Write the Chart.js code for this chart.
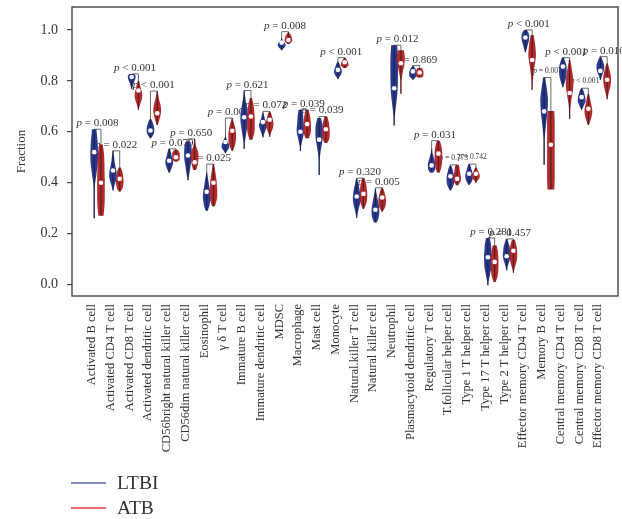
<!DOCTYPE html>
<html>
<head>
<meta charset="utf-8">
<script src="https://cdn.jsdelivr.net/npm/chart.js@4.4.0/dist/chart.umd.min.js"></script>
<style>
  html, body { margin: 0; padding: 0; background: #fff; }
  canvas { display: block; }
</style>
</head>
<body>
<canvas id="chart" width="622" height="519"></canvas>
<script>
// Immune cell types (ssGSEA fractions), LTBI vs ATB
const cells = [
  'Activated B cell', 'Activated CD4 T cell', 'Activated CD8 T cell', 'Activated dendritic cell',
  'CD56bright natural killer cell', 'CD56dim natural killer cell', 'Eosinophil', 'γ δ T cell',
  'Immature B cell', 'Immature dendritic cell', 'MDSC', 'Macrophage', 'Mast cell', 'Monocyte',
  'Natural.killer T cell', 'Natural killer cell', 'Neutrophil', 'Plasmacytoid dendritic cell',
  'Regulatory T cell', 'T.follicular helper cell', 'Type 1 T helper cell', 'Type 17 T helper cell',
  'Type 2 T helper cell', 'Effector memory CD4 T cell', 'Memory B cell', 'Central memory CD4 T cell',
  'Central memory CD8 T cell', 'Effector memory CD8 T cell'
];

const ltbiMin    = [0.26, 0.37, 0.768, 0.575, 0.44, 0.41, 0.29, 0.516, 0.533, 0.578, 0.92, 0.525, 0.43, 0.807, 0.262, 0.244, 0.625, 0.804, 0.44, 0.37, 0.392, -0.003, 0.056, 0.912, 0.47, 0.775, 0.686, 0.804];
const ltbiMax    = [0.61, 0.525, 0.827, 0.65, 0.533, 0.562, 0.44, 0.58, 0.762, 0.676, 0.967, 0.686, 0.654, 0.876, 0.416, 0.375, 0.94, 0.86, 0.53, 0.468, 0.473, 0.183, 0.179, 1.0, 0.813, 0.891, 0.771, 0.895];
const ltbiMedian = [0.52, 0.448, 0.815, 0.605, 0.486, 0.507, 0.364, 0.56, 0.657, 0.638, 0.95, 0.60, 0.569, 0.843, 0.346, 0.294, 0.771, 0.837, 0.468, 0.425, 0.435, 0.107, 0.111, 0.97, 0.68, 0.856, 0.736, 0.839];

const atbMin    = [0.27, 0.365, 0.686, 0.627, 0.483, 0.45, 0.307, 0.525, 0.569, 0.58, 0.945, 0.575, 0.556, 0.85, 0.297, 0.287, 0.749, 0.813, 0.44, 0.39, 0.40, 0.01, 0.046, 0.765, 0.373, 0.651, 0.627, 0.728];
const atbMax    = [0.55, 0.46, 0.80, 0.76, 0.53, 0.572, 0.473, 0.654, 0.733, 0.68, 0.993, 0.686, 0.66, 0.891, 0.418, 0.38, 0.92, 0.85, 0.565, 0.47, 0.46, 0.154, 0.176, 0.98, 0.682, 0.882, 0.749, 0.869];
const atbMedian = [0.40, 0.415, 0.762, 0.673, 0.50, 0.48, 0.40, 0.604, 0.66, 0.647, 0.96, 0.63, 0.61, 0.873, 0.356, 0.342, 0.869, 0.833, 0.514, 0.415, 0.435, 0.089, 0.133, 0.882, 0.549, 0.752, 0.69, 0.804];

// Relative kernel density, sampled evenly from each group's minimum to its maximum
const ltbiDensity = [
  [0.05, 0.08, 0.1, 0.2, 0.6, 0.95, 1, 0.85, 0.6],
  [0.1, 0.4, 0.8, 1, 0.9, 0.6, 0.4, 0.25, 0.1],
  [0.1, 0.2, 0.35, 0.5, 0.7, 0.9, 1, 1, 0.7],
  [0.2, 0.6, 0.9, 1, 1, 0.9, 0.7, 0.5, 0.2],
  [0.2, 0.5, 0.8, 1, 1, 0.8, 0.6, 0.4, 0.2],
  [0.1, 0.3, 0.5, 0.7, 0.9, 1, 1, 0.9, 0.6],
  [0.3, 0.7, 0.9, 1, 0.9, 0.7, 0.5, 0.3, 0.1],
  [0.1, 0.4, 0.8, 1, 1, 0.8, 0.6, 0.3, 0.1],
  [0.05, 0.2, 0.5, 0.8, 1, 0.9, 0.6, 0.3, 0.1],
  [0.1, 0.3, 0.6, 0.9, 1, 0.8, 0.5, 0.3, 0.1],
  [0.1, 0.4, 0.8, 1, 1, 0.8, 0.5, 0.2, 0.1],
  [0.05, 0.2, 0.5, 0.8, 1, 0.9, 0.8, 0.7, 0.5],
  [0.05, 0.1, 0.15, 0.3, 0.6, 0.9, 1, 0.9, 0.5],
  [0.1, 0.4, 0.8, 1, 1, 0.8, 0.6, 0.4, 0.1],
  [0.1, 0.3, 0.6, 0.9, 1, 0.9, 0.7, 0.4, 0.2],
  [0.4, 0.8, 1, 1, 0.9, 0.7, 0.5, 0.3, 0.1],
  [0.05, 0.2, 0.5, 0.8, 0.95, 1, 1, 0.95, 0.8],
  [0.1, 0.5, 0.9, 1, 1, 0.9, 0.7, 0.4, 0.1],
  [0.5, 0.9, 1, 1, 0.8, 0.6, 0.4, 0.2, 0.1],
  [0.2, 0.6, 0.9, 1, 1, 0.9, 0.7, 0.5, 0.2],
  [0.2, 0.6, 0.9, 1, 1, 0.8, 0.6, 0.4, 0.2],
  [0.05, 0.3, 0.6, 0.9, 1, 1, 0.9, 0.8, 0.5],
  [0.1, 0.3, 0.6, 0.9, 1, 0.9, 0.8, 0.5, 0.2],
  [0.1, 0.3, 0.5, 0.7, 0.9, 1, 1, 0.8, 0.4],
  [0.05, 0.08, 0.1, 0.3, 0.6, 0.9, 1, 0.7, 0.3],
  [0.1, 0.4, 0.7, 0.9, 1, 1, 0.9, 0.6, 0.3],
  [0.1, 0.4, 0.7, 1, 1, 0.9, 0.7, 0.5, 0.2],
  [0.1, 0.3, 0.6, 0.9, 1, 1, 0.8, 0.5, 0.2]
];
const atbDensity = [
  [0.7, 0.9, 1, 1, 1, 0.95, 0.9, 0.8, 0.5],
  [0.3, 0.7, 0.9, 1, 1, 0.9, 0.8, 0.6, 0.3],
  [0.1, 0.3, 0.6, 0.9, 1, 0.9, 0.6, 0.4, 0.2],
  [0.2, 0.5, 0.8, 1, 1, 0.8, 0.5, 0.3, 0.1],
  [0.5, 0.9, 1, 1, 1, 1, 0.9, 0.7, 0.3],
  [0.4, 0.7, 0.9, 1, 1, 0.8, 0.4, 0.2, 0.1],
  [0.4, 0.8, 1, 1, 0.9, 0.8, 0.6, 0.4, 0.2],
  [0.2, 0.6, 0.9, 1, 1, 0.9, 0.7, 0.4, 0.1],
  [0.4, 0.8, 1, 1, 1, 0.9, 0.8, 0.6, 0.3],
  [0.1, 0.3, 0.6, 0.9, 1, 0.9, 0.7, 0.5, 0.2],
  [0.3, 0.7, 1, 1, 0.9, 0.8, 0.6, 0.3, 0.1],
  [0.5, 0.8, 1, 1, 1, 0.9, 0.8, 0.6, 0.4],
  [0.4, 0.8, 1, 1, 1, 0.9, 0.8, 0.6, 0.4],
  [0.3, 0.7, 1, 1, 0.9, 0.8, 0.6, 0.4, 0.2],
  [0.2, 0.6, 0.9, 1, 1, 0.9, 0.8, 0.6, 0.3],
  [0.2, 0.6, 0.9, 1, 1, 0.9, 0.7, 0.5, 0.2],
  [0.03, 0.05, 0.1, 0.25, 0.5, 0.8, 1, 1, 0.8],
  [0.6, 0.9, 1, 1, 1, 1, 0.9, 0.8, 0.6],
  [0.4, 0.7, 0.9, 1, 1, 1, 0.9, 0.7, 0.4],
  [0.3, 0.7, 1, 1, 0.9, 0.8, 0.7, 0.6, 0.4],
  [0.1, 0.4, 0.8, 1, 1, 0.8, 0.6, 0.4, 0.2],
  [0.3, 0.7, 0.9, 1, 1, 1, 0.9, 0.8, 0.5],
  [0.1, 0.3, 0.6, 0.9, 1, 1, 0.9, 0.7, 0.4],
  [0.05, 0.15, 0.3, 0.5, 0.8, 1, 0.9, 0.7, 0.4],
  [0.9, 1, 1, 1, 1, 1, 1, 1, 0.9],
  [0.05, 0.15, 0.3, 0.6, 0.9, 1, 0.8, 0.5, 0.2],
  [0.2, 0.5, 0.8, 1, 1, 0.8, 0.6, 0.4, 0.2],
  [0.1, 0.3, 0.6, 0.9, 1, 1, 0.8, 0.5, 0.2]
];

// Wilcoxon test result for each cell type
const pValues = [
  '= 0.008', '= 0.022', '< 0.001', '< 0.001', '= 0.079', '= 0.650', '= 0.025', '= 0.004',
  '= 0.621', '= 0.072', '= 0.008', '= 0.039', '= 0.039', '< 0.001', '= 0.320', '= 0.005',
  '= 0.012', '= 0.869', '= 0.031', '= 0.773', '= 0.742', '= 0.281', '= 0.457', '< 0.001',
  '= 0.007', '< 0.001', '< 0.001', '= 0.010'
];

const yTicks = [0, 0.2, 0.4, 0.6, 0.8, 1.0];

const BLUE = '#2a3990';
const RED = '#b12b2c';
const LEGEND_BLUE = '#5466b4';
const LEGEND_RED = '#e23b3b';
const INK = '#333333';
const SERIF = '"Liberation Serif", "Times New Roman", serif';
const OFF_LTBI = 0.12;   // group offsets within a category slot
const OFF_ATB = 0.48;
const HALF_WIDTH = 3.8;  // px, widest half-width of a violin
const SMALL_LABELS = new Set([19, 20, 24, 26]);

// Catmull-Rom resampling of a density profile
function resample(profile, sub) {
  const n = profile.length, out = [];
  const at = k => profile[Math.max(0, Math.min(n - 1, k))];
  for (let s = 0; s <= (n - 1) * sub; s++) {
    const u = s / sub, k = Math.min(Math.floor(u), n - 2), f = u - k;
    const p0 = at(k - 1), p1 = at(k), p2 = at(k + 1), p3 = at(k + 2);
    const w = 0.5 * ((2 * p1) + (-p0 + p2) * f + (2 * p0 - 5 * p1 + 4 * p2 - p3) * f * f + (-p0 + 3 * p1 - 3 * p2 + p3) * f * f * f);
    out.push({ t: u / (n - 1), w: Math.max(0, w) });
  }
  return out;
}

function drawViolin(ctx, x, y, center, lo, hi, profile, color) {
  const cx = x.getPixelForValue(center);
  const pts = resample(profile, 6).map(p => ({
    py: y.getPixelForValue(lo + (hi - lo) * p.t),
    hw: Math.max(0.6, p.w * HALF_WIDTH)
  }));
  ctx.beginPath();
  pts.forEach((p, k) => k ? ctx.lineTo(cx + p.hw, p.py) : ctx.moveTo(cx + p.hw, p.py));
  for (let k = pts.length - 1; k >= 0; k--) ctx.lineTo(cx - pts[k].hw, pts[k].py);
  ctx.closePath();
  ctx.fillStyle = color;
  ctx.fill();
  // thin inner whisker line
  ctx.beginPath();
  ctx.moveTo(cx, y.getPixelForValue(lo));
  ctx.lineTo(cx, y.getPixelForValue(hi));
  ctx.strokeStyle = 'rgba(20,20,20,0.75)';
  ctx.lineWidth = 0.9;
  ctx.stroke();
}

const violinPlugin = {
  id: 'violins',
  beforeDatasetsDraw(chart) {
    const { ctx, scales: { x, y } } = chart;
    ctx.save();
    // p-value annotations and brackets
    cells.forEach((_, i) => {
      const xb = x.getPixelForValue(i + OFF_LTBI);
      const xr = x.getPixelForValue(i + OFF_ATB);
      const yTop = y.getPixelForValue(Math.max(ltbiMax[i], atbMax[i]));
      ctx.beginPath();
      ctx.moveTo(xb, y.getPixelForValue(ltbiMax[i]));
      ctx.lineTo(xb, yTop);
      ctx.lineTo(xr, yTop);
      ctx.lineTo(xr, y.getPixelForValue(atbMax[i]));
      ctx.strokeStyle = '#444';
      ctx.lineWidth = 0.8;
      ctx.stroke();

      const small = SMALL_LABELS.has(i);
      const size = small ? 7.5 : 11;
      const pFont = `italic ${size}px ${SERIF}`;
      const rFont = `${size}px ${SERIF}`;
      const rest = ' ' + pValues[i];
      ctx.font = pFont;
      const wP = ctx.measureText('p').width;
      ctx.font = rFont;
      const wR = ctx.measureText(rest).width;
      const startX = (xb + xr) / 2 - (wP + wR) / 2;
      const base = yTop - (small ? 5 : 3);
      ctx.fillStyle = INK;
      ctx.textAlign = 'left';
      ctx.textBaseline = 'alphabetic';
      ctx.font = pFont;
      ctx.fillText('p', startX, base);
      ctx.font = rFont;
      ctx.fillText(rest, startX + wP, base);
    });
    // violins
    cells.forEach((_, i) => {
      drawViolin(ctx, x, y, i + OFF_LTBI, ltbiMin[i], ltbiMax[i], ltbiDensity[i], BLUE);
      drawViolin(ctx, x, y, i + OFF_ATB, atbMin[i], atbMax[i], atbDensity[i], RED);
    });
    ctx.restore();
  },
  afterDraw(chart) {
    const { ctx, chartArea: a } = chart;
    ctx.save();
    // plot frame
    ctx.strokeStyle = '#444';
    ctx.lineWidth = 1.4;
    ctx.strokeRect(a.left, a.top, a.right - a.left, a.bottom - a.top);
    // legend
    const items = [
      { text: chart.data.datasets[0].label, color: LEGEND_BLUE, y: 483 },
      { text: chart.data.datasets[1].label, color: LEGEND_RED, y: 508 }
    ];
    ctx.font = `19.5px ${SERIF}`;
    ctx.textBaseline = 'middle';
    ctx.textAlign = 'left';
    items.forEach(it => {
      ctx.beginPath();
      ctx.moveTo(71, it.y);
      ctx.lineTo(106, it.y);
      ctx.strokeStyle = it.color;
      ctx.lineWidth = 1.6;
      ctx.stroke();
      ctx.fillStyle = INK;
      ctx.fillText(it.text, 117, it.y + 1);
    });
    ctx.restore();
  }
};

new Chart(document.getElementById('chart'), {
  type: 'scatter',
  data: {
    datasets: [
      {
        label: 'LTBI',
        data: cells.map((_, i) => ({ x: i + OFF_LTBI, y: ltbiMedian[i] })),
        pointRadius: 2.3,
        pointBackgroundColor: '#ffffff',
        pointBorderWidth: 0,
        borderColor: LEGEND_BLUE
      },
      {
        label: 'ATB',
        data: cells.map((_, i) => ({ x: i + OFF_ATB, y: atbMedian[i] })),
        pointRadius: 2.3,
        pointBackgroundColor: '#ffffff',
        pointBorderWidth: 0,
        borderColor: LEGEND_RED
      }
    ]
  },
  options: {
    responsive: false,
    animation: false,
    devicePixelRatio: 1,
    layout: { padding: { top: 7, right: 3, left: 0, bottom: 0 } },
    plugins: { legend: { display: false }, tooltip: { enabled: false } },
    scales: {
      x: {
        type: 'linear',
        min: -1.065,
        max: 28.06,
        grid: { display: false },
        border: { display: false },
        afterBuildTicks: s => { s.ticks = cells.map((_, i) => ({ value: i })); },
        afterFit: s => { s.height = 223; s.paddingLeft = 0; s.paddingRight = 0; },
        ticks: {
          autoSkip: false,
          minRotation: 90,
          maxRotation: 90,
          padding: 0,
          color: INK,
          font: { family: SERIF, size: 12.5 },
          callback: v => cells[v]
        }
      },
      y: {
        min: -0.045,
        max: 1.09,
        grid: { display: true, drawOnChartArea: false, drawTicks: true, tickLength: 5, color: '#444', lineWidth: 1.2 },
        border: { display: false },
        afterBuildTicks: s => { s.ticks = yTicks.map(v => ({ value: v })); },
        afterFit: s => { s.width = 72; s.paddingTop = 0; s.paddingBottom = 0; },
        title: { display: true, text: 'Fraction', color: INK, font: { family: SERIF, size: 13 }, padding: { top: 14, bottom: 4 } },
        ticks: {
          padding: 9,
          color: INK,
          font: { family: SERIF, size: 14 },
          callback: v => v.toFixed(1)
        }
      }
    }
  },
  plugins: [violinPlugin]
});
</script>
</body>
</html>
